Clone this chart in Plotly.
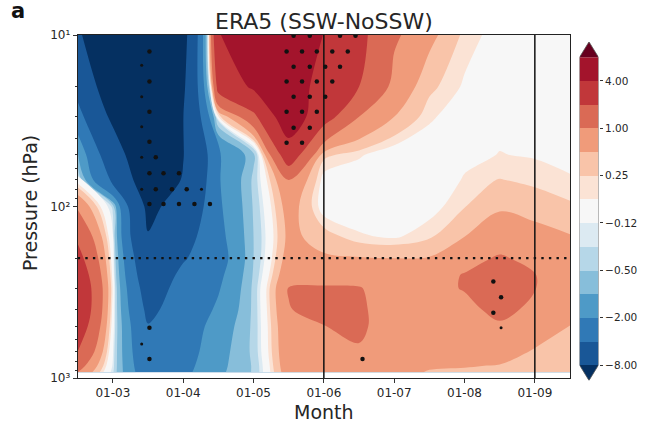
import numpy as np
import plotly.graph_objects as go

# ---------------- data ----------------
months = [2.5, 3.0, 3.5, 4.0, 4.5, 5.0, 5.5, 6.0, 6.5, 7.0, 7.5, 8.0, 8.5, 9.0, 9.5]
pressure_hpa = [10, 20, 30, 50, 70, 100, 150, 200, 250, 300, 400, 500, 700, 850, 925]

# SSW minus NoSSW composite difference (rows follow pressure_hpa, columns follow months)
ssw_minus_nossw = [
    [-7.0, -15.0, -20.0, -9.5, 3.8, 6.5, 7.5, 3.9, 2.3, 1.1, 0.6, 0.2, 0.05, 0.03, 0.02],
    [-5.0, -10.5, -18.0, -8.6, 2.5, 4.3, 5.5, 3.0, 2.0, 0.8, 0.3, 0.1, 0.05, 0.03, 0.02],
    [-3.0, -8.8, -14.0, -8.05, 0.1, 1.6, 5.5, 2.5, 1.0, 0.5, 0.15, 0.03, 0.08, 0.06, 0.05],
    [-0.8, -5.8, -12.0, -8.1, -2.2, -0.6, 2.8, 0.3, 0.15, 0.0, 0.02, 0.08, 0.13, 0.11, 0.08],
    [0.0, -4.5, -10.5, -7.8, -2.1, -0.4, 1.0, 0.05, 0.0, 0.0, 0.0, 0.14, 0.26, 0.2, 0.14],
    [0.9, -0.3, -8.9, -6.5, -2.2, -0.45, 0.7, 0.02, 0.0, 0.0, 0.05, 0.24, 0.45, 0.38, 0.28],
    [1.8, -0.1, -7.8, -5.0, -2.4, -0.5, 0.6, 0.35, 0.15, 0.1, 0.22, 0.5, 0.75, 0.62, 0.52],
    [2.4, 0.0, -6.5, -4.2, -2.6, -0.5, 0.7, 0.55, 0.52, 0.5, 0.52, 0.85, 1.05, 0.88, 0.7],
    [2.9, 0.05, -5.8, -3.5, -2.3, -0.45, 0.85, 0.8, 0.8, 0.7, 0.85, 1.02, 1.3, 1.01, 0.8],
    [3.2, 0.1, -5.2, -3.2, -2.1, -0.4, 1.02, 1.05, 1.03, 0.75, 0.9, 1.02, 1.3, 1.01, 0.8],
    [3.2, 0.05, -4.5, -3.0, -1.8, -0.4, 0.98, 1.15, 1.1, 0.7, 0.85, 0.9, 1.1, 0.92, 0.7],
    [2.8, 0.0, -3.9, -2.8, -1.5, -0.4, 0.9, 0.99, 1.1, 0.72, 0.8, 0.8, 0.95, 0.75, 0.49],
    [2.0, -0.1, -3.5, -2.6, -1.3, -0.4, 0.85, 0.9, 0.95, 0.75, 0.7, 0.65, 0.7, 0.46, 0.42],
    [1.3, -0.15, -3.2, -2.4, -1.2, -0.45, 0.8, 0.85, 0.85, 0.7, 0.55, 0.52, 0.48, 0.42, 0.38],
    [1.0, -0.2, -3.0, -2.3, -1.15, -0.45, 0.75, 0.8, 0.8, 0.65, 0.47, 0.45, 0.4, 0.38, 0.35],
]

contour_levels = [-8, -4, -2, -1, -0.5, -0.25, -0.125, 0.125, 0.25, 0.5, 1, 2, 4, 8]
colorbar_ticks = [-8, -2, -0.5, -0.125, 0.25, 1, 4]
colorbar_ticktext = ["\u22128.00", "\u22122.00", "\u22120.50", "\u22120.12", "0.25", "1.00", "4.00"]

month_ticks = [3, 4, 5, 6, 7, 8, 9]
month_ticktext = ["01-03", "01-04", "01-05", "01-06", "01-07", "01-08", "01-09"]
month_range = [2.5, 9.5]
pressure_range = [10, 1000]
pressure_ticks = [10, 100, 1000]
pressure_ticktext = ["10\u00b9", "10\u00b2", "10\u00b3"]
pressure_minor = [20, 30, 40, 50, 60, 70, 80, 90, 200, 300, 400, 500, 600, 700, 800, 900]

event_months = [6, 9]          # vertical reference lines
ref_pressure = 200             # dotted horizontal reference line

# significance stippling (month, hPa)
stip_month = [3.52, 3.52, 3.52, 3.52, 3.61, 3.52, 3.72, 3.94, 3.61, 3.84, 4.05,
              3.52, 3.72, 3.94, 4.16, 4.38, 3.52, 3.52,
              5.57, 5.80, 6.23, 6.45,
              5.47, 5.69, 5.90, 6.12, 6.34,
              5.57, 5.80, 6.02, 6.23,
              5.47, 5.69, 5.90, 6.12,
              5.57, 5.80, 6.02,
              5.47, 5.69, 5.90,
              5.57, 5.80,
              5.47, 5.69,
              8.41, 8.52, 8.41, 6.55]
stip_p = [12.5, 18.7, 28.0, 41.9, 51.7, 64.0, 64.0, 64.0, 79.4, 79.4, 79.4,
          96.7, 96.7, 96.7, 96.7, 96.7, 509, 775,
          10.1, 10.1, 10.1, 10.1,
          12.5, 12.5, 12.5, 12.5, 12.5,
          15.3, 15.3, 15.3, 15.3,
          18.7, 18.7, 18.7, 18.7,
          22.9, 22.9, 22.9,
          28.0, 28.0, 28.0,
          34.7, 34.7,
          42.5, 42.5,
          274, 338, 416, 775]
stip_small_month = [3.41, 3.41, 3.41, 3.41, 3.41, 4.26, 3.41, 8.52]
stip_small_p = [15.0, 22.9, 34.3, 51.7, 79.4, 79.4, 633, 509]

# ---------------- style ----------------
band_colors = ["#053061", "#195797", "#3079b6", "#4e9ac7", "#87beda", "#b6d7e8", "#dceaf2",
               "#f7f7f7", "#fbe3d5", "#f9c4a9", "#f09b7a", "#da6a55", "#c1373a", "#a3142c", "#67001f"]
FONT = "DejaVu Sans"
TXT = "#262626"
W, H = 648, 426

z = np.array(ssw_minus_nossw, dtype=float)

fig = go.Figure()

# filled contours: layered "z above level" regions (linear interpolation in data space)
base_value = float(z.min()) - 1.0
fill_values = [base_value] + contour_levels
for val, col in zip(fill_values, band_colors):
    if val >= z.max():
        continue
    fig.add_trace(go.Contour(
        x=months, y=pressure_hpa, z=z,
        contours=dict(type="constraint", operation="<", value=val, showlines=False),
        fillcolor=col, line=dict(width=0, color=col),
        showscale=False, hoverinfo="skip", showlegend=False,
    ))

# stippling
fig.add_trace(go.Scatter(x=stip_month, y=stip_p, mode="markers",
                         marker=dict(size=4.5, color="#111111"), hoverinfo="skip", showlegend=False))
fig.add_trace(go.Scatter(x=stip_small_month, y=stip_small_p, mode="markers",
                         marker=dict(size=3, color="#111111"), hoverinfo="skip", showlegend=False))

# reference lines
for m in event_months:
    fig.add_trace(go.Scatter(x=[m, m], y=pressure_range, mode="lines",
                             line=dict(color="#111111", width=1.5), hoverinfo="skip", showlegend=False))
fig.add_trace(go.Scatter(x=month_range, y=[ref_pressure, ref_pressure], mode="lines",
                         line=dict(color="#111111", width=2.4, dash="2.4px,5.2px"),
                         hoverinfo="skip", showlegend=False))

# ---------------- colorbar built on its own axes ----------------
nb = len(contour_levels) - 1
cb_scale = []
for k in range(nb):
    c = band_colors[k + 1]
    cb_scale.append([k / nb, c])
    cb_scale.append([(k + 1) / nb, c])
fig.add_trace(go.Heatmap(
    x=[0.5], y=[k + 0.5 for k in range(nb)], z=[[k] for k in range(nb)],
    zmin=-0.5, zmax=nb - 0.5, colorscale=cb_scale, showscale=False,
    xaxis="x2", yaxis="y2", hoverinfo="skip",
))
tri = 0.65
fig.add_trace(go.Scatter(x=[0, 1, 0.5, 0], y=[nb, nb, nb + tri, nb], fill="toself",
                         fillcolor=band_colors[-1], line=dict(width=0), mode="lines",
                         xaxis="x2", yaxis="y2", hoverinfo="skip", showlegend=False))
fig.add_trace(go.Scatter(x=[0, 1, 0.5, 0], y=[0, 0, -tri, 0], fill="toself",
                         fillcolor=band_colors[0], line=dict(width=0), mode="lines",
                         xaxis="x2", yaxis="y2", hoverinfo="skip", showlegend=False))
fig.add_trace(go.Scatter(x=[0, 0, 0.5, 1, 1, 0.5, 0], y=[0, nb, nb + tri, nb, 0, -tri, 0],
                         mode="lines", line=dict(color="#555555", width=0.8),
                         xaxis="x2", yaxis="y2", hoverinfo="skip", showlegend=False))

cb_tickvals = [contour_levels.index(t) for t in colorbar_ticks]

# ---------------- layout ----------------
ax_x0, ax_x1 = 77.7 / W, 570 / W
ax_y0, ax_y1 = 1 - 378 / H, 1 - 35 / H
cb_x0, cb_x1 = 579.5 / W, 598.5 / W
cb_y0, cb_y1 = 1 - 380.4 / H, 1 - 41.9 / H

fig.update_layout(
    width=W, height=H,
    margin=dict(l=0, r=0, t=0, b=0),
    paper_bgcolor="white", plot_bgcolor="white",
    hovermode=False, showlegend=False,
    font=dict(family=FONT, color=TXT),
    xaxis=dict(domain=[ax_x0, ax_x1], range=month_range, tickvals=month_ticks,
               ticktext=month_ticktext, ticks="outside", ticklen=4, tickwidth=1,
               tickcolor="#333", showline=True, linecolor="#222", linewidth=1, mirror=True,
               showgrid=False, zeroline=False, tickfont=dict(size=12, color=TXT),
               automargin=False, anchor="y", fixedrange=True),
    yaxis=dict(domain=[ax_y0, ax_y1], type="log", range=[3, 1], tickvals=pressure_ticks,
               ticktext=pressure_ticktext, ticks="outside", ticklen=4, tickwidth=1,
               tickcolor="#333", showline=True, linecolor="#222", linewidth=1, mirror=True,
               showgrid=False, zeroline=False, tickfont=dict(size=12, color=TXT),
               minor=dict(tickvals=pressure_minor, ticks="outside", ticklen=2, tickcolor="#333"),
               automargin=False, anchor="x", fixedrange=True),
    xaxis2=dict(domain=[cb_x0, cb_x1], range=[0, 1], visible=False, fixedrange=True, anchor="y2"),
    yaxis2=dict(domain=[cb_y0, cb_y1], range=[-tri, nb + tri], side="right", anchor="x2",
                tickvals=cb_tickvals, ticktext=colorbar_ticktext, ticks="outside", ticklen=3.5,
                tickcolor="#333", showline=False, showgrid=False, zeroline=False,
                tickfont=dict(size=10.5, color=TXT), automargin=False, fixedrange=True),
    annotations=[
        dict(text="<b>a</b>", x=9 / W, y=1 - 11 / H, xref="paper", yref="paper",
             xanchor="left", yanchor="middle", showarrow=False, font=dict(size=21, color="#111")),
        dict(text="ERA5 (SSW-NoSSW)", x=(ax_x0 + ax_x1) / 2, y=1 - 21 / H, xref="paper", yref="paper",
             xanchor="center", yanchor="middle", showarrow=False, font=dict(size=22, color=TXT)),
        dict(text="Month", x=(ax_x0 + ax_x1) / 2, y=1 - 412 / H, xref="paper", yref="paper",
             xanchor="center", yanchor="middle", showarrow=False, font=dict(size=19, color=TXT)),
        dict(text="Pressure (hPa)", x=30 / W, y=1 - 203 / H, xref="paper", yref="paper",
             xanchor="center", yanchor="middle", textangle=-90, showarrow=False,
             font=dict(size=19, color=TXT)),
    ],
)

# remove the default page margin so the 648x426 figure fills the window exactly
fig.write_html("out.html", config={"displayModeBar": False, "staticPlot": True},
               post_script="document.body.style.margin='0px';document.body.style.overflow='hidden';")
